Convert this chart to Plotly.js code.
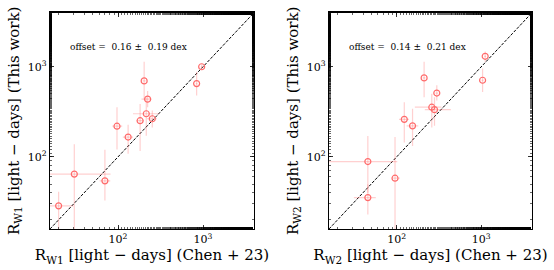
<!DOCTYPE html>
<html>
<head>
<meta charset="utf-8">
<script src="https://cdn.plot.ly/plotly-3.0.1.min.js"></script>
<style>html,body{margin:0;padding:0;background:#fff;}#plot{width:554px;height:270px;}</style>
</head>
<body>
<div id="plot"></div>
<script>
// Panel 1: W1
const w1_chen = [20, 30.6, 70.1, 97.3, 131.5, 182, 215, 253, 223, 203, 841, 964];
const w1_chen_plus = [9.8, 51, 10.9, 14.7, 18.5, 19, 91, 34, 25, 8, 20, 25];
const w1_chen_minus = [10, 20, 9.4, 11.6, 17.5, 17, 65, 34, 34, 8, 20, 25];
const w1_this = [28.6, 64.4, 54.2, 219, 166, 252, 301, 265, 437, 697, 650, 1000];
const w1_this_plus = [12.4, 74, 66, 137, 61, 135, 159, 61, 100, 441, 229, 60];
const w1_this_minus = [15, 55, 21.3, 98, 58, 136, 130, 53, 81, 267, 169, 60];

// Panel 2: W2
const w2_chen = [45.6, 45.6, 95.6, 123, 154, 211, 260, 280, 298, 1037, 1113];
const w2_chen_plus = [11, 56, 13.4, 17, 26, 8, 78, 156, 10, 30, 30];
const w2_chen_minus = [14.4, 35, 8.3, 16.5, 23, 8, 96, 65, 10, 30, 30];
const w2_this = [35.3, 88.7, 58, 261, 221, 752, 356, 334, 511, 708, 1306];
const w2_this_plus = [14.5, 82, 108, 144, 120, 386, 145, 126, 111, 250, 169];
const w2_this_minus = [12.4, 48.7, 50, 117, 89, 292, 144, 113, 89, 184, 168];

const offsetTexts = ["offset =  0.16 \u00b1  0.19 dex", "offset =  0.14 \u00b1  0.21 dex"];
const xTitles = ["R<sub>W1</sub> [light \u2212 days] (Chen + 23)", "R<sub>W2</sub> [light \u2212 days] (Chen + 23)"];
const yTitles = ["R<sub>W1</sub> [light \u2212 days] (This work)", "R<sub>W2</sub> [light \u2212 days] (This work)"];
const oneToOne = [Math.pow(10, 1.2), Math.pow(10, 3.6)];
const tickVals = [100, 1000];
const tickText = ["10<sup>2</sup>", "10<sup>3</sup>"];

const errColor = "rgba(255,110,110,0.32)";
const mColor = "#ff6b6b";
const FONT = "DejaVu Serif, Liberation Serif, serif";

function pts(x, xp, xm, y, yp, ym, xa, ya) {
  return {
    type: "scatter", mode: "markers", x: x, y: y, xaxis: xa, yaxis: ya,
    marker: {symbol: "circle-open", size: 6, color: mColor, line: {width: 1.2, color: mColor}},
    error_x: {type: "data", symmetric: false, array: xp, arrayminus: xm, color: errColor, thickness: 1.2, width: 0},
    error_y: {type: "data", symmetric: false, array: yp, arrayminus: ym, color: errColor, thickness: 1.2, width: 0},
    hoverinfo: "none", showlegend: false
  };
}
function diag(xa, ya) {
  return {type: "scatter", mode: "lines", x: oneToOne, y: oneToOne, xaxis: xa, yaxis: ya,
    line: {color: "#000", width: 1, dash: "3px,1.5px"}, hoverinfo: "none", showlegend: false};
}

const data = [
  diag("x", "y"),
  pts(w1_chen, w1_chen_plus, w1_chen_minus, w1_this, w1_this_plus, w1_this_minus, "x", "y"),
  diag("x2", "y2"),
  pts(w2_chen, w2_chen_plus, w2_chen_minus, w2_this, w2_this_plus, w2_this_minus, "x2", "y2")
];

function axis(domain, title, anchor) {
  return {
    type: "log", range: [1.2, 3.6], domain: domain, anchor: anchor,
    showgrid: false, zeroline: false, showline: true, linecolor: "#000", linewidth: 1.2, mirror: "allticks",
    ticks: "inside", ticklen: 4, tickwidth: 0.8, tickcolor: "#000",
    tickvals: tickVals, ticktext: tickText,
    tickfont: {family: FONT, size: 11, color: "#000"},
    minor: {ticks: "inside", ticklen: 2, tickwidth: 0.6, tickcolor: "#000", showgrid: false},
    title: {text: title, font: {family: FONT, size: 15, color: "#000"}, standoff: 4}
  };
}

const yDom = [0.152, 0.953];
const layout = {
  width: 554, height: 270,
  margin: {l: 0, r: 0, t: 0, b: 0},
  paper_bgcolor: "#fff", plot_bgcolor: "#fff",
  xaxis: axis([0.0903, 0.4585], xTitles[0], "y"),
  yaxis: axis(yDom, yTitles[0], "x"),
  xaxis2: axis([0.5939, 0.9603], xTitles[1], "y2"),
  yaxis2: axis(yDom, yTitles[1], "x2"),
  annotations: [
    {xref: "x domain", yref: "y domain", x: 0.088, y: 0.84, xanchor: "left", yanchor: "middle", showarrow: false,
     text: offsetTexts[0], font: {family: FONT, size: 9, color: "#000"}},
    {xref: "x2 domain", yref: "y2 domain", x: 0.089, y: 0.84, xanchor: "left", yanchor: "middle", showarrow: false,
     text: offsetTexts[1], font: {family: FONT, size: 9, color: "#000"}}
  ]
};

Plotly.newPlot("plot", data, layout, {staticPlot: true, displayModeBar: false});
</script>
</body>
</html>
